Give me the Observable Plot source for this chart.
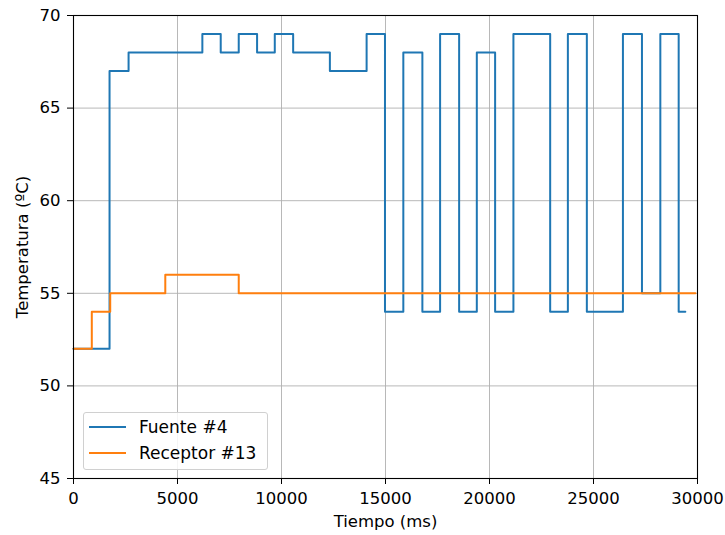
<!DOCTYPE html>
<html>
<head>
<meta charset="utf-8">
<script src="https://cdn.jsdelivr.net/npm/d3@7"></script>
<script src="https://cdn.jsdelivr.net/npm/@observablehq/plot@0.6"></script>
<style>
  html, body { margin: 0; padding: 0; background: white; }
  #wrap { position: relative; width: 725px; height: 535px; font-family: "DejaVu Sans", sans-serif; }
  #legend { position: absolute; left: 83px; top: 412px; width: 185px; height: 58px; box-sizing: border-box;
    border: 1px solid #d0d0d0; border-radius: 3px; background: rgba(255,255,255,0.85); font-size: 17px; color: #000; }
  .row { position: absolute; left: 5px; height: 20px; display: flex; align-items: center; white-space: nowrap; }
  .sw { width: 37px; height: 2px; margin-right: 13px; }
</style>
</head>
<body>
<div id="wrap"></div>
<script>
// Data
const seriesNames = ["Fuente #4", "Receptor #13"];
const seriesColors = ["#1f77b4", "#ff7f0e"];
const fuenteTime = [0, 1733, 2648, 6195, 7078, 7944, 8826, 9677, 10560, 12326, 14092, 14975, 15857, 16773, 17625, 18540, 19390, 20270, 21150, 22917, 23768, 24680, 26415, 27330, 28213, 29095, 29415];
const fuenteTemp = [52, 67, 68, 69, 68, 69, 68, 69, 68, 67, 69, 54, 68, 54, 69, 54, 68, 54, 69, 54, 69, 54, 69, 55, 69, 54, 54];
const receptorTime = [0, 880, 1765, 4413, 7944, 29900];
const receptorTemp = [52, 54, 55, 56, 55, 55];
const xTicks = [0, 5000, 10000, 15000, 20000, 25000, 30000];
const yTicks = [45, 50, 55, 60, 65, 70];

const fuente = fuenteTime.map((t, i) => ({t, v: fuenteTemp[i]}));
const receptor = receptorTime.map((t, i) => ({t, v: receptorTemp[i]}));

const chart = Plot.plot({
  width: 725, height: 535,
  marginLeft: 73, marginRight: 28, marginTop: 15, marginBottom: 57,
  style: {fontFamily: "DejaVu Sans", fontSize: "16.5px", color: "#000", background: "white"},
  x: {domain: [0, 30000]},
  y: {domain: [45, 70]},
  marks: [
    Plot.gridX(xTicks, {stroke: "#b0b0b0", strokeOpacity: 1, strokeWidth: 0.9}),
    Plot.gridY(yTicks, {stroke: "#b0b0b0", strokeOpacity: 1, strokeWidth: 0.9}),
    Plot.line(fuente, {x: "t", y: "v", curve: "step-after", stroke: seriesColors[0], strokeWidth: 2}),
    Plot.line(receptor, {x: "t", y: "v", curve: "step-after", stroke: seriesColors[1], strokeWidth: 2}),
    Plot.frame({stroke: "black", strokeWidth: 1.1}),
    Plot.axisX(xTicks, {tickFormat: d3.format("d"), tickSize: 6, tickPadding: 8, label: "Tiempo (ms)", labelAnchor: "center", labelArrow: "none", labelOffset: 48, fontSize: 16.5}),
    Plot.axisY(yTicks, {tickFormat: d3.format("d"), tickSize: 6, tickPadding: 7, label: "Temperatura (ºC)", labelAnchor: "center", labelArrow: "none", labelOffset: 57, fontSize: 16.5})
  ]
});

const wrap = document.getElementById("wrap");
wrap.appendChild(chart);

const legend = document.createElement("div");
legend.id = "legend";
seriesNames.forEach((name, i) => {
  const row = document.createElement("div");
  row.className = "row";
  row.style.top = (4 + i * 26) + "px";
  const sw = document.createElement("div");
  sw.className = "sw";
  sw.style.background = seriesColors[i];
  const label = document.createElement("span");
  label.textContent = name;
  row.appendChild(sw);
  row.appendChild(label);
  legend.appendChild(row);
});
wrap.appendChild(legend);
</script>
</body>
</html>
